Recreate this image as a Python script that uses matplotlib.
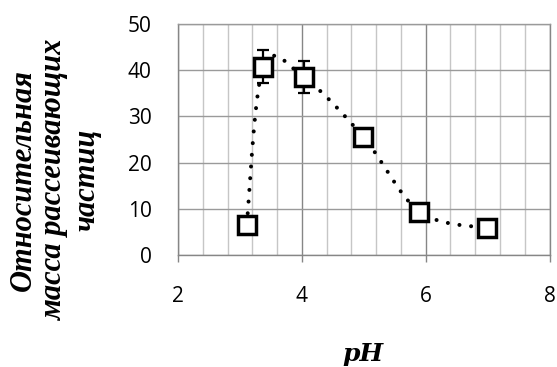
import numpy as np
import matplotlib
matplotlib.use("Agg")
import matplotlib.pyplot as plt
from matplotlib.ticker import MultipleLocator

# измерения: pH и относительная масса рассеивающих частиц
ph = [3.11, 3.38, 4.03, 4.99, 5.90, 6.99]
mass = [6.5, 40.8, 38.5, 25.6, 9.4, 5.8]
mass_err = [0, 3.6, 3.4, 0, 0, 0]

x_ticks = [2, 4, 6, 8]
y_ticks = [0, 10, 20, 30, 40, 50]

ylabel_text = "Относительная\nмасса рассеивающих\nчастиц"
xlabel_text = "pH"


def smooth_line(xs, ys, steps=40):
    # сглаженная линия как в Excel (Безье с контрольными точками Катмулла-Рома)
    p = np.column_stack([xs, ys]).astype(float)
    p = np.vstack([p[0], p, p[-1]])
    out = []
    t = np.linspace(0, 1, steps)[:, None]
    for i in range(1, len(p) - 2):
        p0, p1, p2, p3 = p[i - 1], p[i], p[i + 1], p[i + 2]
        c1 = p1 + (p2 - p0) / 6
        c2 = p2 - (p3 - p1) / 6
        seg = ((1 - t) ** 3) * p1 + 3 * ((1 - t) ** 2) * t * c1 \
            + 3 * (1 - t) * t ** 2 * c2 + t ** 3 * p2
        out.append(seg if i == 1 else seg[1:])
    out = np.vstack(out)
    return out[:, 0], out[:, 1]


fig = plt.figure(figsize=(5.57, 3.67), dpi=100)
ax = fig.add_axes([178 / 557, 1 - 255 / 367, (549.5 - 178) / 557, (255 - 24) / 367])

ax.set_xlim(2, 8)
ax.set_ylim(0, 50)
ax.set_xticks(x_ticks)
ax.set_yticks(y_ticks)
ax.xaxis.set_minor_locator(MultipleLocator(0.4))

# сетка
ax.grid(which="minor", axis="x", color="#c6c6c6", lw=1.0)
ax.grid(which="major", axis="x", color="#868686", lw=1.0)
ax.grid(which="major", axis="y", color="#9a9a9a", lw=1.0)
ax.set_axisbelow(True)

for side in ["left", "right", "bottom"]:
    ax.spines[side].set_color("#868686")
ax.spines["top"].set_color("#9a9a9a")
for s in ax.spines.values():
    s.set_linewidth(1.0)

ax.tick_params(axis="x", which="major", length=5, width=1.0, color="#868686",
               pad=17, labelsize=15)
ax.tick_params(axis="x", which="minor", length=0)
ax.tick_params(axis="y", length=0, pad=19, labelsize=15)
for lab in ax.get_xticklabels() + ax.get_yticklabels():
    lab.set_fontfamily("Open Sans")

# пунктирная сглаженная линия
sx, sy = smooth_line(ph, mass)
ax.plot(sx, sy, color="black", lw=2.9, linestyle=(0, (0.01, 2.9)),
        dash_capstyle="round", zorder=3)

# погрешности
for x, y, e in zip(ph, mass, mass_err):
    if e > 0:
        ax.errorbar(x, y, yerr=e, fmt="none", ecolor="black", elinewidth=1.6,
                    capsize=4, capthick=1.6, zorder=4)

ax.plot(ph, mass, linestyle="none", marker="s", ms=12.8, mew=2.5,
        mfc="white", mec="black", zorder=5)

fig.text(55 / 557, 1 - 180 / 367, ylabel_text, rotation=90, ha="center",
         va="center", multialignment="center", fontsize=22,
         fontfamily="Liberation Serif", fontweight="bold", fontstyle="italic",
         linespacing=1.12)
fig.text(363 / 557, 1 - 354 / 367, xlabel_text, ha="center", va="center",
         fontsize=18, fontfamily="DejaVu Serif", fontweight="bold",
         fontstyle="italic")

fig.savefig("out.png", dpi=100)
